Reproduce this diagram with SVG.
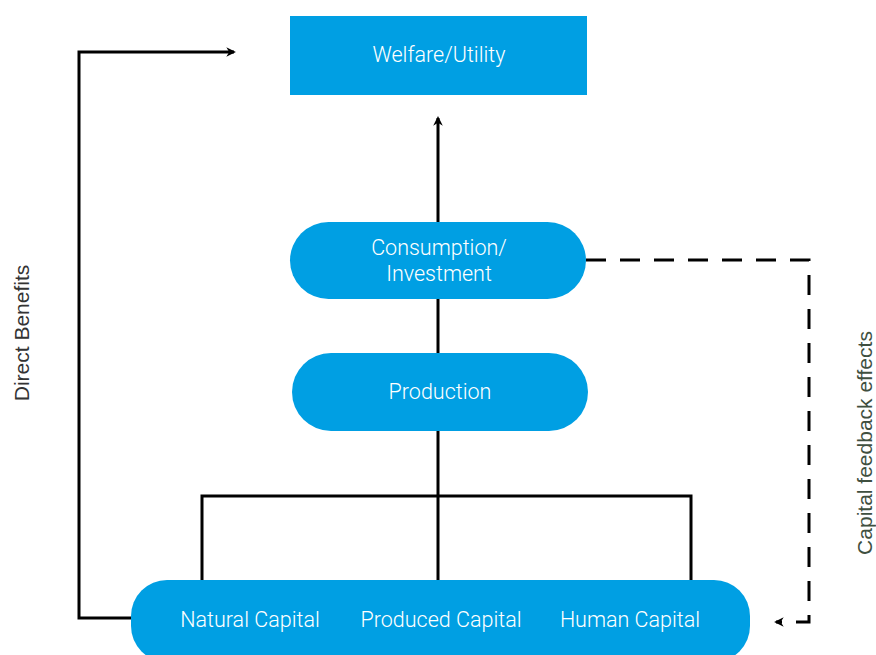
<svg xmlns="http://www.w3.org/2000/svg" width="876" height="655" viewBox="0 0 876 655">
<defs>
<marker id="ah" viewBox="0 0 10 10" refX="8" refY="5" markerWidth="3.2" markerHeight="3.2" orient="auto" markerUnits="strokeWidth">
<path d="M0,0 L10,5 L0,10 L3,5 Z" fill="#000"/>
</marker>
<style>
.box{fill:#009fe3}
.lbl{font-family:Roboto,"Liberation Sans",sans-serif;font-size:21.5px;fill:#ffffff;text-anchor:middle;font-weight:300}
.ln{fill:none;stroke:#000;stroke-width:3}
.side{font-family:"Liberation Sans",Arial,sans-serif;font-size:21px;text-anchor:middle}
</style>
</defs>
<rect width="876" height="655" fill="#ffffff"/>
<g id="connectors">
<polyline class="ln" points="131,618 79,618 79,52 234,52" marker-end="url(#ah)"/>
<line class="ln" x1="438" y1="222" x2="438" y2="118" marker-end="url(#ah)"/>
<line class="ln" x1="438" y1="299" x2="438" y2="353"/>
<line class="ln" x1="438" y1="431" x2="438" y2="582"/>
<polyline class="ln" points="202,582 202,496 691,496 691,582"/>
<polyline class="ln" points="586,260 809,260 809,622 776,622" stroke-dasharray="20,14" marker-end="url(#ah)"/>
</g>
<g id="welfare">
<rect class="box" x="290" y="16" width="297" height="79"/>
<text class="lbl" x="439" y="62">Welfare/Utility</text>
</g>
<g id="consumption">
<rect class="box" x="290" y="222" width="296" height="77" rx="38.5"/>
<text class="lbl" x="439" y="255">Consumption/</text>
<text class="lbl" x="439" y="281">Investment</text>
</g>
<g id="production">
<rect class="box" x="292" y="353" width="296" height="78" rx="39"/>
<text class="lbl" x="440" y="399">Production</text>
</g>
<g id="capital">
<rect class="box" x="131" y="580" width="619" height="82" rx="36"/>
<text class="lbl" x="250" y="627">Natural Capital</text>
<text class="lbl" x="441" y="627">Produced Capital</text>
<text class="lbl" x="630" y="627">Human Capital</text>
</g>
<g id="labels">
<text class="side" fill="#333333" transform="translate(29,333) rotate(-90)">Direct Benefits</text>
<text class="side" fill="#3f4f3f" transform="translate(872,443) rotate(-90)">Capital feedback effects</text>
</g>
</svg>
